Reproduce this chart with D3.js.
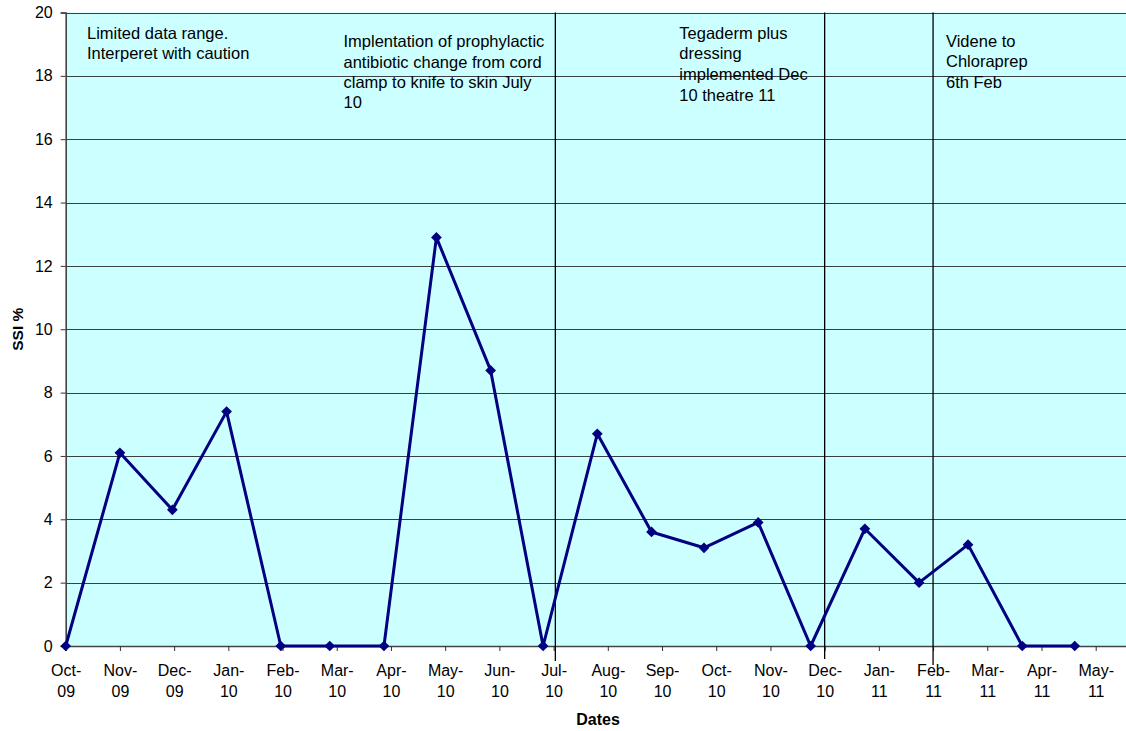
<!DOCTYPE html>
<html>
<head>
<meta charset="utf-8">
<script src="https://cdn.jsdelivr.net/npm/d3@7"></script>
<style>
  html, body { margin: 0; padding: 0; background: #fff; }
  svg { display: block; font-family: Arial, "Liberation Sans", sans-serif; }
</style>
</head>
<body>
<svg id="chart" width="1126" height="731"></svg>
<script>
// Monthly surgical site infection rate (%)
const pointDates = [
  "2009-10-01", "2009-11-01", "2009-12-01", "2010-01-01", "2010-02-01",
  "2010-03-01", "2010-04-01", "2010-05-01", "2010-06-01", "2010-07-01",
  "2010-08-01", "2010-09-01", "2010-10-01", "2010-11-01", "2010-12-01",
  "2011-01-01", "2011-02-01", "2011-03-01", "2011-04-01", "2011-05-01"
];
const ssiValues = [0, 6.1, 4.3, 7.4, 0, 0, 0, 12.9, 8.7, 0, 6.7, 3.6, 3.1, 3.9, 0, 3.7, 2.0, 3.2, 0, 0];

// Axis ticks: one every 31 days from the axis start
const tickLabels = [
  "Oct-09", "Nov-09", "Dec-09", "Jan-10", "Feb-10", "Mar-10", "Apr-10", "May-10",
  "Jun-10", "Jul-10", "Aug-10", "Sep-10", "Oct-10", "Nov-10", "Dec-10", "Jan-11",
  "Feb-11", "Mar-11", "Apr-11", "May-11"
];
const yTicks = [0, 2, 4, 6, 8, 10, 12, 14, 16, 18, 20];

// Practice changes marked on the timeline
const changeDates = ["2010-07-08", "2010-12-09", "2011-02-09"];
const notes = [
  ["Limited data range.", "Interperet with caution"],
  ["Implentation of prophylactic", "antibiotic change from cord", "clamp to knife to skin July", "10"],
  ["Tegaderm plus", "dressing", "implemented Dec", "10 theatre 11"],
  ["Videne to", "Chloraprep", "6th Feb"]
];

const parse = d3.utcParse("%Y-%m-%d");
const DAY = 86400000;
const axisStart = parse("2009-10-01");
const axisEnd = new Date(+axisStart + 620 * DAY);

const svg = d3.select("#chart");
const plotLeft = 65.7, plotTop = 12.5, plotBottom = 646;
const plotRight = plotLeft + 620 * (1030 / 589);

const x = d3.scaleUtc().domain([axisStart, axisEnd]).range([plotLeft, plotRight]);
const y = d3.scaleLinear().domain([0, 20]).range([plotBottom, plotTop]);

// plot area
svg.append("rect")
  .attr("x", plotLeft).attr("y", plotTop)
  .attr("width", plotRight - plotLeft).attr("height", plotBottom - plotTop)
  .attr("fill", "#ccffff");

// horizontal gridlines
svg.append("g")
  .selectAll("line")
  .data(yTicks.filter(v => v > 0))
  .join("line")
  .attr("x1", plotLeft).attr("x2", plotRight)
  .attr("y1", d => Math.round(y(d)) + 0.5).attr("y2", d => Math.round(y(d)) + 0.5)
  .attr("stroke", "#3a4040").attr("stroke-width", 1);

// y axis
const yAxis = svg.append("g")
  .attr("transform", `translate(${plotLeft},0)`)
  .call(d3.axisLeft(y).tickValues(yTicks).tickSize(5).tickPadding(8));
yAxis.select(".domain").attr("stroke", "#444").attr("stroke-width", 1.6);
yAxis.selectAll(".tick line").attr("stroke", "#333");
yAxis.selectAll("text").attr("font-size", 16).attr("fill", "#000")
  .attr("font-family", "Arial, 'Liberation Sans', sans-serif");

// x axis
const tickDates = tickLabels.map((_, i) => new Date(+axisStart + i * 31 * DAY));
const xAxis = svg.append("g")
  .attr("transform", `translate(0,${plotBottom})`)
  .call(d3.axisBottom(x).tickValues(tickDates).tickSize(5).tickFormat(""));
xAxis.select(".domain").attr("stroke", "#444").attr("stroke-width", 1.6);
xAxis.selectAll(".tick line").attr("stroke", "#333");
xAxis.selectAll(".tick").each(function (d, i) {
  const parts = tickLabels[i].split("-");
  const t = d3.select(this).select("text")
    .attr("font-size", 16).attr("fill", "#000")
    .attr("font-family", "Arial, 'Liberation Sans', sans-serif")
    .attr("y", 0).attr("dy", null).text(null);
  t.append("tspan").attr("x", 0).attr("y", 30).text(parts[0] + "-");
  t.append("tspan").attr("x", 0).attr("y", 51).text(parts[1]);
});

// practice change markers
svg.append("g")
  .selectAll("line")
  .data(changeDates)
  .join("line")
  .attr("x1", d => x(parse(d))).attr("x2", d => x(parse(d)))
  .attr("y1", plotTop)
  .attr("y2", (d, i) => [661, 659, 665][i])
  .attr("stroke", "#000").attr("stroke-width", 1.3);

// annotation text
const noteLayout = [
  { x: 87, y: 39, step: 20 },
  { x: 343.5, y: 47.3, step: 20.3 },
  { x: 679.3, y: 38.5, step: 20.8 },
  { x: 946, y: 46.8, step: 20.5 }
];
notes.forEach((lines, i) => {
  const L = noteLayout[i];
  const t = svg.append("text")
    .attr("font-size", 16.5).attr("fill", "#000");
  lines.forEach((s, j) => {
    t.append("tspan").attr("x", L.x).attr("y", L.y + j * L.step).text(s);
  });
});

// series
const data = pointDates.map((d, i) => ({ date: parse(d), value: ssiValues[i] }));
const line = d3.line().x(d => x(d.date)).y(d => y(d.value));
svg.append("path")
  .datum(data)
  .attr("d", line)
  .attr("fill", "none")
  .attr("stroke", "#000080")
  .attr("stroke-width", 3)
  .attr("stroke-linejoin", "round");

svg.append("g")
  .selectAll("path")
  .data(data)
  .join("path")
  .attr("transform", d => `translate(${x(d.date)},${y(d.value)}) rotate(45)`)
  .attr("d", "M-3.8,-3.8H3.8V3.8H-3.8Z")
  .attr("fill", "#000080");

// axis titles
svg.append("text")
  .attr("x", 598).attr("y", 725)
  .attr("text-anchor", "middle")
  .attr("font-size", 16).attr("font-weight", "bold")
  .text("Dates");

svg.append("text")
  .attr("transform", `translate(23,${(plotTop + plotBottom) / 2}) rotate(-90)`)
  .attr("text-anchor", "middle")
  .attr("font-size", 15.5).attr("font-weight", "bold")
  .text("SSI %");
</script>
</body>
</html>
